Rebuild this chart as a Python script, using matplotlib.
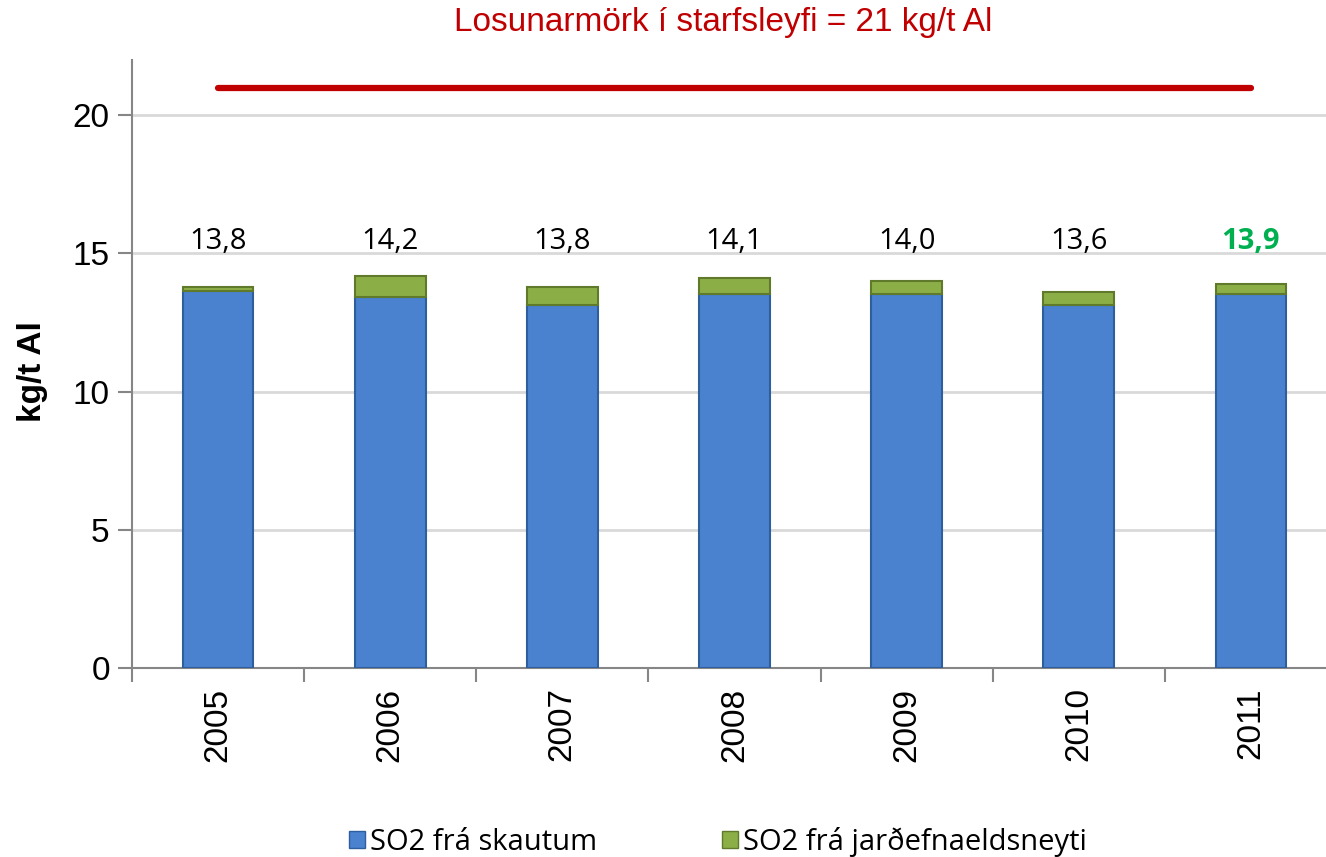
import matplotlib.pyplot as plt
import numpy as np
from matplotlib.patches import Patch

years = ['2005', '2006', '2007', '2008', '2009', '2010', '2011']
skaut = [13.65, 13.43, 13.13, 13.55, 13.52, 13.13, 13.52]
jardefn = [0.15, 0.77, 0.67, 0.55, 0.48, 0.47, 0.38]
totals = ['13,8', '14,2', '13,8', '14,1', '14,0', '13,6', '13,9']
limit = 21

fig = plt.figure(figsize=(13.26, 8.57), dpi=100)
ax = fig.add_axes([132/1326, (857-668)/857, (1337-132)/1326, (668-60)/857])

x = np.arange(len(years))
w = 0.41
ax.bar(x, skaut, width=w, color='#4A82CF', edgecolor='#2F5E9E', linewidth=1.5, zorder=3)
ax.bar(x, jardefn, bottom=skaut, width=w, color='#8CAE47', edgecolor='#5E7A2A', linewidth=1.5, zorder=3)

ax.plot([x[0], x[-1]], [limit, limit], color='#C00000', lw=4.5, solid_capstyle='round', zorder=5)

for i, t in enumerate(totals):
    if i == len(totals) - 1:
        ax.text(x[i], 15.45, t, ha='center', va='center', fontsize=21, family='Open Sans',
                color='#00B050', weight='bold')
    else:
        ax.text(x[i], 15.45, t, ha='center', va='center', fontsize=21, family='Open Sans', color='black')

ax.set_xlim(-0.5, len(years) - 0.5)
ax.set_ylim(0, 22)
ax.set_yticks([0, 5, 10, 15, 20])
ax.set_yticklabels(['0', '5', '10', '15', '20'], family='Liberation Sans', fontsize=24)
ax.set_xticks(x)
ax.set_xticklabels(years, rotation=90, family='Liberation Sans', fontsize=24)
ax.set_xticks(np.arange(-0.5, len(years)), minor=True)
ax.tick_params(axis='x', which='major', length=0, pad=14)
ax.tick_params(axis='x', which='minor', length=10, width=1.5, color='#868686')
ax.tick_params(axis='y', length=10, width=1.5, color='#868686', pad=6)
ax.grid(axis='y', color='#D9D9D9', lw=2, zorder=0)
for s in ['top', 'right']:
    ax.spines[s].set_visible(False)
ax.spines['left'].set_color('#868686')
ax.spines['bottom'].set_color('#868686')
ax.spines['left'].set_linewidth(1.5)
ax.spines['bottom'].set_linewidth(1.5)

fig.text(33/1326, 1 - 372/857, 'kg/t Al', rotation=90, ha='center', va='center',
         family='Liberation Sans', fontsize=24, weight='bold')
fig.text(723/1326, 1 - 22/857, 'Losunarmörk í starfsleyfi = 21 kg/t Al', ha='center', va='center',
         family='Liberation Sans', fontsize=24, color='#C00000')

handles = [Patch(facecolor='#4A82CF', edgecolor='#2F5E9E'), Patch(facecolor='#8CAE47', edgecolor='#5E7A2A')]
fig.legend(handles, ['SO2 frá skautum', 'SO2 frá jarðefnaeldsneyti'], loc='center',
           bbox_to_anchor=(718/1326, 1 - 842/857), ncol=2, frameon=False,
           prop={'family': 'Open Sans', 'size': 21}, handlelength=0.55, handleheight=0.55,
           handletextpad=0.15, columnspacing=4.3)

fig.savefig('out.png', dpi=100)
